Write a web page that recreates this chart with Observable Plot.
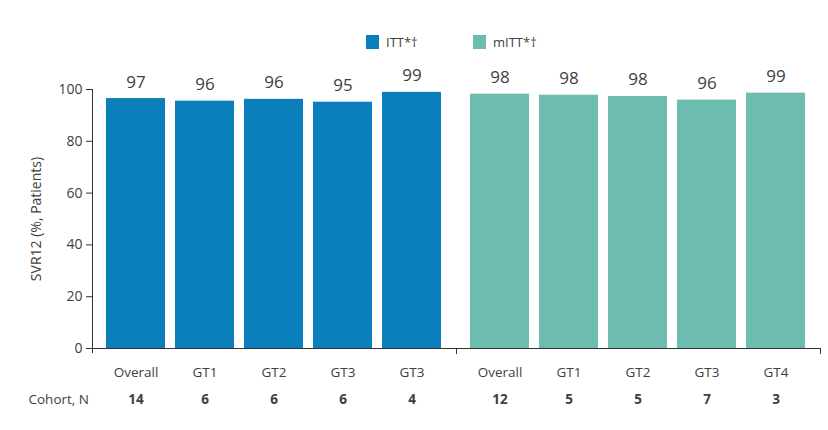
<!DOCTYPE html>
<html>
<head>
<meta charset="utf-8">
<script src="https://cdn.jsdelivr.net/npm/d3@7"></script>
<script src="https://cdn.jsdelivr.net/npm/@observablehq/plot@0.6"></script>
<style>
  body { margin: 0; background: #fff; font-family: "Open Sans", "Liberation Sans", Arial, sans-serif; }
  #wrap { position: relative; width: 828px; height: 430px; }
  .leg { position: absolute; top: 33px; display: flex; align-items: center; font-size: 13px; color: #404040; }
  .leg .sw { width: 13px; height: 14px; margin-right: 7px; }
  #chart { position: absolute; left: 0; top: 0; }
</style>
</head>
<body>
<div id="wrap">
  <div id="chart"></div>
</div>
<script>
// ---- Data ----
const groups = ["ITT*†", "mITT*†"];
const groupColors = ["#0a7fbb", "#6cbdaf"];

const ittCategories = ["Overall", "GT1", "GT2", "GT3", "GT3"];
const ittValues = [96.5, 95.5, 96.2, 95.1, 98.9];
const ittLabels = ["97", "96", "96", "95", "99"];
const ittN = [14, 6, 6, 6, 4];

const mittCategories = ["Overall", "GT1", "GT2", "GT3", "GT4"];
const mittValues = [98.2, 97.8, 97.3, 95.9, 98.6];
const mittLabels = ["98", "98", "98", "96", "99"];
const mittN = [12, 5, 5, 7, 3];

const yTicks = [0, 20, 40, 60, 80, 100];
const yLabel = "SVR12 (%, Patients)";
const rowLabel = "Cohort, N";

// ---- Build table ----
const series = [
  {cats: ittCategories, vals: ittValues, labels: ittLabels, n: ittN},
  {cats: mittCategories, vals: mittValues, labels: mittLabels, n: mittN}
];
const rows = [];
series.forEach((s, gi) => {
  s.cats.forEach((c, i) => {
    rows.push({group: groups[gi], key: i, category: c, value: s.vals[i], label: s.labels[i], n: String(s.n[i])});
  });
});
const keys = ittCategories.map((_, i) => i);

const textColor = "#404040";
const axisColor = "#333333";

const chart = Plot.plot({
  width: 828,
  height: 430,
  marginLeft: 92,
  marginRight: 8,
  marginTop: 89,
  marginBottom: 82,
  style: {fontFamily: "'Open Sans', 'Liberation Sans', Arial, sans-serif", background: "transparent"},
  fx: {domain: groups, padding: 0, axis: null},
  x: {domain: keys, paddingInner: 0.143, paddingOuter: 0.18, axis: null},
  y: {domain: [0, 100]},
  color: {domain: groups, range: groupColors},
  marks: [
    Plot.axisY({
      ticks: yTicks, tickSize: 6, tickPadding: 4, fontSize: 14, color: textColor,
      stroke: axisColor, label: yLabel, labelAnchor: "center", labelOffset: 61, labelArrow: "none"
    }),
    Plot.frame({anchor: "left", facetAnchor: "left", insetBottom: -4, stroke: axisColor}),
    Plot.frame({anchor: "right", insetTop: 259, insetBottom: -5, stroke: axisColor}),
    Plot.barY(rows, {fx: "group", x: "key", y: "value", fill: "group"}),
    Plot.ruleY([0], {stroke: axisColor}),
    Plot.text(rows, {fx: "group", x: "key", y: "value", text: "label", dy: -11, lineAnchor: "bottom", fontSize: 17, fill: textColor}),
    Plot.text(rows, {fx: "group", x: "key", text: "category", frameAnchor: "bottom", dy: 24, lineAnchor: "middle", fontSize: 13.5, fill: textColor}),
    Plot.text(rows, {fx: "group", x: "key", text: "n", frameAnchor: "bottom", dy: 51, lineAnchor: "middle", fontSize: 13.5, fontWeight: "bold", fill: textColor}),
    Plot.text([rowLabel], {fx: () => groups[0], text: d => d, frameAnchor: "bottom-left", dx: -64, dy: 51, lineAnchor: "middle", textAnchor: "start", fontSize: 13.5, fill: textColor})
  ]
});
document.getElementById("chart").appendChild(chart);

// ---- Legend ----
const legendLeft = [366, 473];
groups.forEach((g, i) => {
  const item = document.createElement("div");
  item.className = "leg";
  item.style.left = legendLeft[i] + "px";
  const sw = document.createElement("div");
  sw.className = "sw";
  sw.style.background = groupColors[i];
  const t = document.createElement("span");
  t.textContent = g;
  item.appendChild(sw);
  item.appendChild(t);
  document.getElementById("wrap").appendChild(item);
});
</script>
</body>
</html>
